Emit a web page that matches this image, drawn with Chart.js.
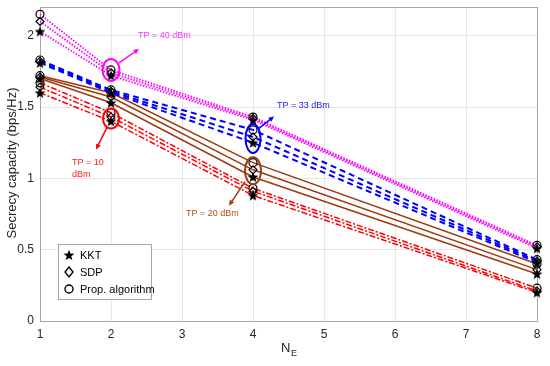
<!DOCTYPE html>
<html>
<head>
<meta charset="utf-8">
<script src="https://cdn.jsdelivr.net/npm/chart.js@4.4.1/dist/chart.umd.min.js"></script>
<style>
  html, body { margin: 0; padding: 0; background: #fff; }
</style>
</head>
<body>
<canvas id="chart" width="550" height="366"></canvas>
<script>
// x positions (number of eavesdropper antennas)
const N_E = [1, 2, 4, 8];
const X_TICKS = [1, 2, 3, 4, 5, 6, 7, 8];
const Y_TICKS = [0, 0.5, 1, 1.5, 2];

// TP = 40 dBm
const tp40Kkt  = [2.03, 1.72, 1.41, 0.51];
const tp40Sdp  = [2.10, 1.74, 1.42, 0.52];
const tp40Prop = [2.15, 1.76, 1.43, 0.53];
// TP = 33 dBm
const tp33Kkt  = [1.81, 1.60, 1.25, 0.41];
const tp33Sdp  = [1.82, 1.61, 1.29, 0.42];
const tp33Prop = [1.83, 1.62, 1.34, 0.43];
// TP = 20 dBm
const tp20Kkt  = [1.70, 1.53, 1.01, 0.33];
const tp20Sdp  = [1.71, 1.57, 1.06, 0.36];
const tp20Prop = [1.72, 1.60, 1.11, 0.40];
// TP = 10 dBm
const tp10Kkt  = [1.60, 1.40, 0.88, 0.20];
const tp10Sdp  = [1.64, 1.43, 0.91, 0.21];
const tp10Prop = [1.67, 1.46, 0.93, 0.23];

const FONT = '"Liberation Sans", Arial, sans-serif';

// filled five point star, drawn once and reused as a point style
const makeStar = (size) => {
  const c = document.createElement('canvas');
  c.width = size; c.height = size;
  const g = c.getContext('2d');
  const cx = size / 2, cy = size / 2 + 0.5, ro = size / 2 - 0.3, ri = ro * 0.42;
  g.beginPath();
  for (let i = 0; i < 10; i++) {
    const r = i % 2 ? ri : ro;
    const a = -Math.PI / 2 + i * Math.PI / 5;
    g.lineTo(cx + r * Math.cos(a), cy + r * Math.sin(a));
  }
  g.closePath();
  g.fillStyle = '#000';
  g.fill();
  return c;
};
const STAR = makeStar(12);

const MARKERS = {
  kkt:  { pointStyle: STAR, radius: 6 },
  sdp:  { pointStyle: 'rectRot', radius: 4 },
  prop: { pointStyle: 'circle', radius: 4 }
};

const GROUPS = [
  { color: '#ff00ff', width: 1.8, dash: [1.5, 1.5], series: { kkt: tp40Kkt, sdp: tp40Sdp, prop: tp40Prop } },
  { color: '#0000ff', width: 2,   dash: [6, 4],     series: { kkt: tp33Kkt, sdp: tp33Sdp, prop: tp33Prop } },
  { color: '#9c3a10', width: 1.5, dash: [],         series: { kkt: tp20Kkt, sdp: tp20Sdp, prop: tp20Prop } },
  { color: '#ff0000', width: 1.5, dash: [6, 2, 2, 2], series: { kkt: tp10Kkt, sdp: tp10Sdp, prop: tp10Prop } }
];

const datasets = [];
GROUPS.forEach(g => {
  Object.keys(g.series).forEach(k => {
    datasets.push({
      label: k,
      data: N_E.map((x, i) => ({ x, y: g.series[k][i] })),
      borderColor: g.color,
      borderWidth: g.width,
      borderDash: g.dash,
      pointStyle: MARKERS[k].pointStyle,
      pointRadius: MARKERS[k].radius,
      pointBorderColor: '#000',
      pointBackgroundColor: 'rgba(0,0,0,0)',
      pointBorderWidth: 1.2,
      tension: 0,
      clip: false
    });
  });
});

// ellipses, arrows and labels marking each transmit power group
const NOTES = [
  { x: 2, y: 1.76, rx: 8.5, ry: 11, color: '#ff00ff', arrow: [8, -7, 28, -21],
    text: ['TP = 40 dBm'], tx: 27, ty: -34, textColor: '#ff33ff' },
  { x: 2, y: 1.42, rx: 8, ry: 10, color: '#ff0000', arrow: [-4, 9, -15, 31],
    text: ['TP = 10', 'dBm'], tx: -39, ty: 44, textColor: '#ff2020' },
  { x: 4, y: 1.28, rx: 7.5, ry: 14.5, color: '#0000ff', arrow: [6, -10, 21, -22],
    text: ['TP = 33 dBm'], tx: 24, ty: -33, textColor: '#2020ff' },
  { x: 4, y: 1.054, rx: 8, ry: 13.5, color: '#9c3a10', arrow: [-8, 11, -24, 35],
    text: ['TP = 20 dBm'], tx: -67, ty: 43, textColor: '#b0501a' }
];

const frame = {
  id: 'frame',
  beforeDatasetsDraw(chart) {
    const { ctx, chartArea: a } = chart;
    ctx.save();
    ctx.strokeStyle = '#a6a6a6';
    ctx.lineWidth = 1;
    ctx.strokeRect(Math.round(a.left) + 0.5, Math.round(a.top) + 0.5,
      Math.round(a.right - a.left), Math.round(a.bottom - a.top));
    ctx.restore();
  }
};

const notes = {
  id: 'notes',
  afterDatasetsDraw(chart) {
    const { ctx, scales: { x, y } } = chart;
    ctx.save();
    NOTES.forEach(n => {
      const cx = x.getPixelForValue(n.x), cy = y.getPixelForValue(n.y);
      ctx.strokeStyle = n.color;
      ctx.fillStyle = n.color;
      ctx.lineWidth = 2;
      ctx.setLineDash([]);
      ctx.beginPath();
      ctx.ellipse(cx, cy, n.rx, n.ry, 0, 0, Math.PI * 2);
      ctx.stroke();

      const [x0, y0, x1, y1] = n.arrow;
      const ang = Math.atan2(y1 - y0, x1 - x0);
      ctx.lineWidth = 1.5;
      ctx.beginPath();
      ctx.moveTo(cx + x0, cy + y0);
      ctx.lineTo(cx + x1 - 4 * Math.cos(ang), cy + y1 - 4 * Math.sin(ang));
      ctx.stroke();
      ctx.beginPath();
      ctx.moveTo(cx + x1, cy + y1);
      ctx.lineTo(cx + x1 - 6 * Math.cos(ang - 0.45), cy + y1 - 6 * Math.sin(ang - 0.45));
      ctx.lineTo(cx + x1 - 6 * Math.cos(ang + 0.45), cy + y1 - 6 * Math.sin(ang + 0.45));
      ctx.closePath();
      ctx.fill();

      ctx.fillStyle = n.textColor;
      ctx.font = '9px ' + FONT;
      ctx.textAlign = 'left';
      ctx.textBaseline = 'middle';
      n.text.forEach((t, i) => ctx.fillText(t, cx + n.tx, cy + n.ty + i * 12));
    });
    ctx.restore();
  }
};

const legendBox = {
  id: 'legendBox',
  afterDraw(chart) {
    const { ctx } = chart;
    const bx = 58, by = 244, bw = 93, bh = 55;
    ctx.save();
    ctx.fillStyle = '#fff';
    ctx.fillRect(bx, by, bw, bh);
    ctx.strokeStyle = '#a6a6a6';
    ctx.lineWidth = 1;
    ctx.strokeRect(bx + 0.5, by + 0.5, bw, bh);
    const rows = [['kkt', 'KKT'], ['sdp', 'SDP'], ['prop', 'Prop. algorithm']];
    rows.forEach(([k, name], i) => {
      const mx = 69, my = 255 + i * 17;
      ctx.strokeStyle = '#000';
      ctx.lineWidth = 1.4;
      if (k === 'kkt') {
        ctx.drawImage(STAR, mx - 6, my - 6);
      } else if (k === 'sdp') {
        ctx.beginPath();
        ctx.moveTo(mx, my - 5); ctx.lineTo(mx + 4, my); ctx.lineTo(mx, my + 5); ctx.lineTo(mx - 4, my);
        ctx.closePath(); ctx.stroke();
      } else {
        ctx.beginPath(); ctx.arc(mx, my, 4, 0, Math.PI * 2); ctx.stroke();
      }
      ctx.fillStyle = '#000';
      ctx.font = '11px ' + FONT;
      ctx.textAlign = 'left';
      ctx.textBaseline = 'middle';
      ctx.fillText(name, 80, my + 0.5);
    });

    // axis titles
    ctx.fillStyle = '#262626';
    ctx.font = '13px ' + FONT;
    ctx.textAlign = 'center';
    ctx.textBaseline = 'middle';
    ctx.save();
    ctx.translate(12, 163);
    ctx.rotate(-Math.PI / 2);
    ctx.fillText('Secrecy capacity (bps/Hz)', 0, 0);
    ctx.restore();
    ctx.textAlign = 'left';
    ctx.font = '13px ' + FONT;
    ctx.fillText('N', 281, 348);
    ctx.font = '9px ' + FONT;
    ctx.fillText('E', 291, 354);
    ctx.restore();
  }
};

new Chart(document.getElementById('chart'), {
  type: 'line',
  data: { datasets },
  options: {
    responsive: false,
    animation: false,
    layout: { padding: { top: 5, right: 13, left: 0, bottom: 0 } },
    plugins: { legend: { display: false }, tooltip: { enabled: false } },
    scales: {
      x: {
        type: 'linear',
        min: 1, max: 8,
        afterBuildTicks: s => { s.ticks = X_TICKS.map(v => ({ value: v })); },
        afterFit: s => { s.height = 45; s.paddingLeft = 0; s.paddingRight = 0; },
        grid: { color: '#e6e6e6', drawTicks: false },
        border: { color: '#a6a6a6' },
        ticks: { padding: 6, color: '#262626', font: { family: FONT, size: 12 }, maxRotation: 0,
                 callback: v => String(v) }
      },
      y: {
        min: 0, max: 2.2,
        afterBuildTicks: s => { s.ticks = Y_TICKS.map(v => ({ value: v })); },
        afterFit: s => { s.width = 40; s.paddingTop = 0; s.paddingBottom = 0; },
        grid: { color: '#e6e6e6', drawTicks: false },
        border: { color: '#a6a6a6' },
        ticks: { padding: 6, color: '#262626', font: { family: FONT, size: 12 },
                 callback: v => String(v) }
      }
    }
  },
  plugins: [frame, notes, legendBox]
});
</script>
</body>
</html>
